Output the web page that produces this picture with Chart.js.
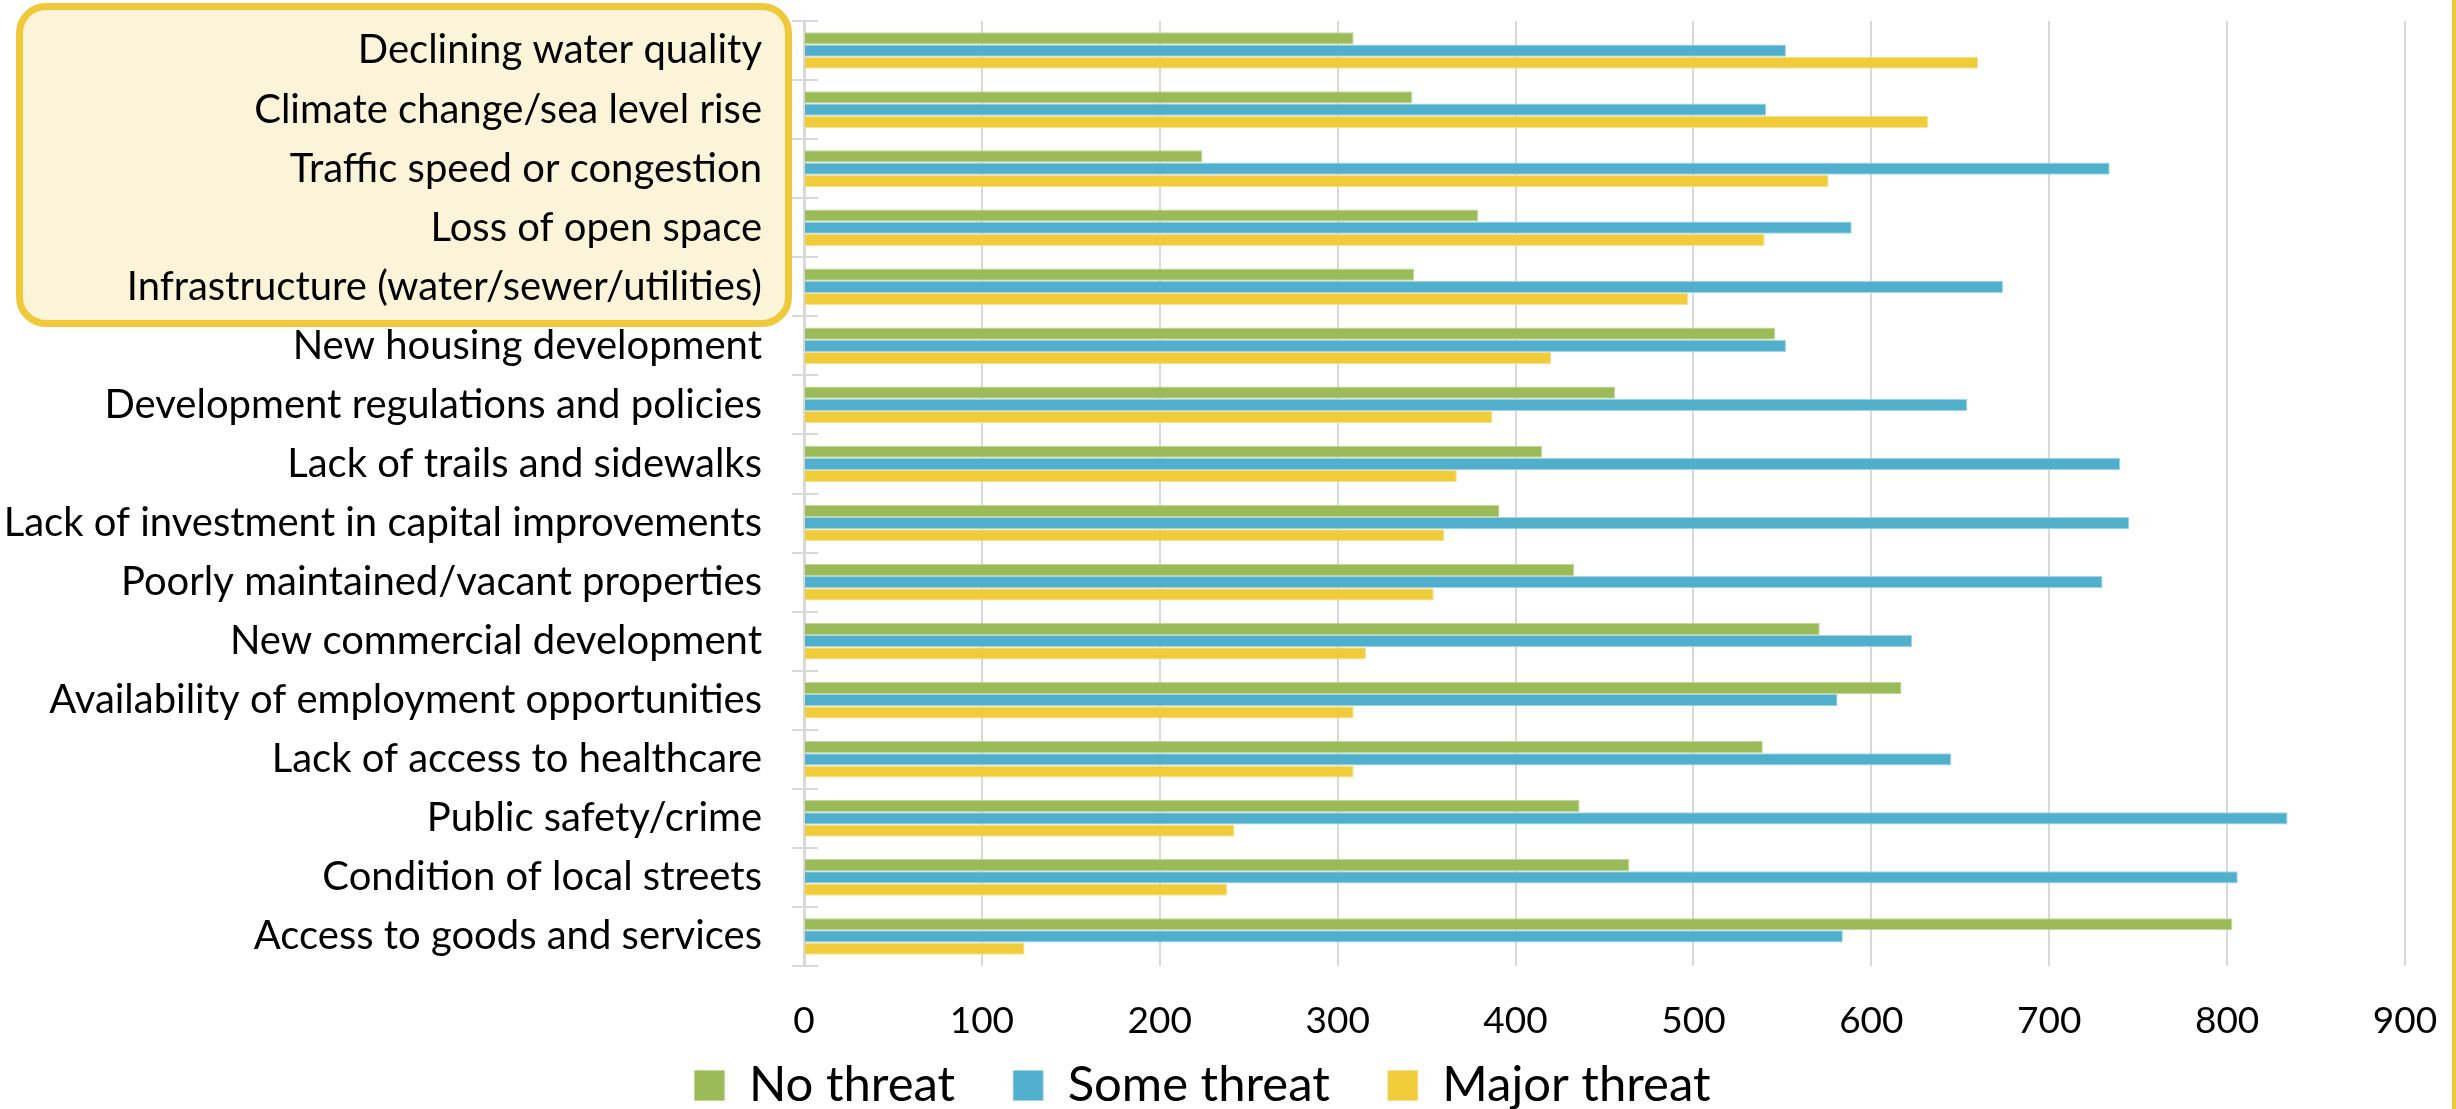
<!DOCTYPE html>
<html>
<head>
<meta charset="utf-8">
<script src="https://cdn.jsdelivr.net/npm/chart.js@4.4.1/dist/chart.umd.min.js"></script>
<style>
  html, body { margin: 0; padding: 0; background: #fff; }
  #wrap { position: relative; width: 2456px; height: 1109px; }
  #hilite {
    position: absolute; left: 16px; top: 3px; width: 776px; height: 324px;
    box-sizing: border-box; border: 7px solid #f0c93b; border-radius: 30px;
    background: #fcf4d8;
  }
  #edge { position: absolute; left: 2452px; top: 0; width: 4px; height: 1109px; background: #f0c93b; }
  canvas { position: absolute; left: 0; top: 0; }
</style>
</head>
<body>
<div id="wrap">
  <div id="hilite"></div>
  <canvas id="chart" width="2456" height="1109"></canvas>
  <div id="edge"></div>
</div>
<script>
const categories = [
  'Declining water quality',
  'Climate change/sea level rise',
  'Traffic speed or congestion',
  'Loss of open space',
  'Infrastructure (water/sewer/utilities)',
  'New housing development',
  'Development regulations and policies',
  'Lack of trails and sidewalks',
  'Lack of investment in capital improvements',
  'Poorly maintained/vacant properties',
  'New commercial development',
  'Availability of employment opportunities',
  'Lack of access to healthcare',
  'Public safety/crime',
  'Condition of local streets',
  'Access to goods and services'
];
const noThreat    = [309, 342, 224, 379, 343, 546, 456, 415, 391, 433, 571, 617, 539, 436, 464, 803];
const someThreat  = [552, 541, 734, 589, 674, 552, 654, 740, 745, 730, 623, 581, 645, 834, 806, 584];
const majorThreat = [660, 632, 576, 540, 497, 420, 387, 367, 360, 354, 316, 309, 309, 242, 238, 124];
const xTicks = [0, 100, 200, 300, 400, 500, 600, 700, 800, 900];

// kleine streepjes die de y-as kruisen (binnenkant)
const crossTicks = {
  id: 'crossTicks',
  beforeDatasetsDraw(chart) {
    const y = chart.scales.y;
    const left = chart.chartArea.left;
    const ctx = chart.ctx;
    ctx.save();
    ctx.strokeStyle = '#d9d9d9';
    ctx.lineWidth = 2;
    for (let i = 0; i <= categories.length; i++) {
      const py = Math.round(y.getPixelForValue(i - 0.5));
      ctx.beginPath();
      ctx.moveTo(left, py);
      ctx.lineTo(left + 14, py);
      ctx.stroke();
    }
    ctx.restore();
  }
};

const ctx = document.getElementById('chart').getContext('2d');
new Chart(ctx, {
  type: 'bar',
  data: {
    labels: categories,
    datasets: [
      { label: 'No threat', data: noThreat, backgroundColor: '#9bbb59', borderColor: '#c2d69a' },
      { label: 'Some threat', data: someThreat, backgroundColor: '#50afcc', borderColor: '#a3d5e4' },
      { label: 'Major threat', data: majorThreat, backgroundColor: '#f0cc3a', borderColor: '#f6e290' }
    ]
  },
  options: {
    indexAxis: 'y',
    responsive: false,
    devicePixelRatio: 1,
    animation: false,
    layout: { padding: { top: 21, right: 51, left: 0, bottom: 0 } },
    datasets: { bar: { categoryPercentage: 0.62, barPercentage: 1, borderWidth: 1 } },
    scales: {
      x: {
        min: 0, max: 900,
        afterBuildTicks(scale) { scale.ticks = xTicks.map(v => ({ value: v })); },
        afterFit(scale) {
          scale.height = 37;
          scale.paddingLeft = 0;
          scale.paddingRight = 0;
        },
        grid: { color: '#d9d9d9', lineWidth: 2, drawTicks: false },
        border: { display: false },
        // mirror + negatieve padding: labels onder de as, zonder clip
        ticks: { color: '#000', mirror: true, padding: -77, font: { family: 'Lato', size: 37 } }
      },
      y: {
        afterFit(scale) {
          scale.width = 804;
          scale.paddingTop = 0;
          scale.paddingBottom = 0;
        },
        grid: { drawOnChartArea: false, color: '#d9d9d9', lineWidth: 2, tickLength: 12 },
        border: { color: '#d9d9d9', width: 3 },
        ticks: { color: '#000', padding: 30, font: { family: 'Lato', size: 40 } }
      }
    },
    plugins: {
      legend: {
        position: 'bottom',
        maxHeight: 106,
        labels: {
          color: '#000',
          boxWidth: 30, boxHeight: 30,
          padding: 58,
          font: { family: 'Lato', size: 49 }
        }
      },
      tooltip: { enabled: false }
    }
  },
  plugins: [crossTicks]
});
</script>
</body>
</html>
